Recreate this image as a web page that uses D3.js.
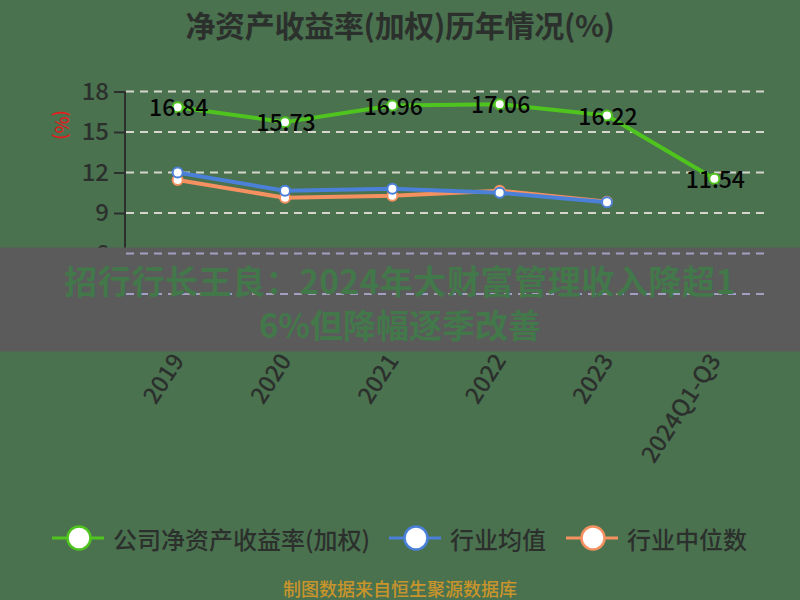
<!DOCTYPE html>
<html><head><meta charset="utf-8">
<script src="https://cdn.jsdelivr.net/npm/d3@7"></script>
<style>
html,body{margin:0;padding:0;background:#4a724f;}
svg{display:block;font-family:"Noto Sans CJK SC","Noto Sans",sans-serif;}
</style></head>
<body>
<svg id="chart" width="800" height="600"></svg>
<script>
const categories = ["2019","2020","2021","2022","2023","2024Q1-Q3"];
const companyROE = [16.84,15.73,16.96,17.06,16.22,11.54];
const industryMean = [12.0,10.65,10.8,10.5,9.8,null];
const industryMedian = [11.44,10.13,10.28,10.65,9.84,null];
const yTicks = [0,3,6,9,12,15,18];
const seriesNames = ["公司净资产收益率(加权)","行业均值","行业中位数"];
const seriesColors = ["#4fc41f","#4a80d8","#f59160"];
const titleText = "净资产收益率(加权)历年情况(%)";
const yAxisLabel = "(%)";
const sourceText = "制图数据来自恒生聚源数据库";
const bannerLines = ["招行行长王良：2024年大财富管理收入降超1","6%但降幅逐季改善"];

(function(){
const svg = d3.select("#chart");
const W = 800, H = 600;
const pLeft = 125, pRight = 768, pTop = 91.5, pBottom = 334.5;
const bTop = 247.5, bBot = 351.5;

svg.append("rect").attr("width",W).attr("height",H).attr("fill","#4a724f");

const x = d3.scaleBand().domain(categories).range([pLeft-1,pRight]);
const y = d3.scaleLinear().domain([0,18]).range([pBottom,pTop]);
const cx = c => x(c) + x.bandwidth()/2;

// title
svg.append("text").attr("x",400).attr("y",24).attr("text-anchor","middle")
  .attr("dominant-baseline","central").attr("font-size",30).attr("font-weight","bold")
  .attr("fill","#2c302d").attr("letter-spacing",-0.3).text(titleText);

// grid
svg.append("g").selectAll("line").data(yTicks.filter(t=>t>0)).join("line")
  .attr("x1",pLeft+1).attr("x2",pRight).attr("y1",d=>y(d)).attr("y2",d=>y(d))
  .attr("stroke","#d6d6cc").attr("stroke-width",2).attr("stroke-dasharray","8,6");

// y axis
const yAxis = d3.axisLeft(y).tickValues(yTicks).tickSize(11).tickPadding(5)
  .tickFormat(d => y(d) - 12 < bTop ? d : "");
const yg = svg.append("g").attr("transform",`translate(${pLeft},0)`).call(yAxis);
yg.select(".domain").attr("stroke","#2c302d").attr("stroke-width",2).attr("d",`M0,${pTop}V${pBottom}`);
yg.selectAll(".tick line").attr("stroke","#2c302d").attr("stroke-width",2);
yg.selectAll(".tick text").attr("fill","#2c302d").attr("font-size",24).attr("font-weight",500)
  .attr("font-family","'Noto Sans CJK SC',sans-serif");

// y label
svg.append("text").attr("transform","translate(63,125) rotate(90)")
  .attr("text-anchor","middle").attr("dominant-baseline","central")
  .attr("font-size",18).attr("font-weight",500).attr("fill","#e01c1c").text(yAxisLabel);

// x labels
svg.append("g").selectAll("text").data(categories).join("text")
  .attr("transform",c=>`translate(${cx(c)-1},355) rotate(-57)`)
  .attr("text-anchor","end").attr("dominant-baseline","central")
  .attr("font-size",23.5).attr("font-weight",500).attr("fill","#2c302d").text(c=>c);

// lines
const allSeries = [companyROE, industryMean, industryMedian];
const lineGen = d3.line().defined(d=>d.v!=null).x(d=>cx(d.c)).y(d=>y(d.v));
[2,1,0].forEach(i=>{
  const pts = categories.map((c,j)=>({c, v: allSeries[i][j]}));
  svg.append("path").datum(pts).attr("d",lineGen).attr("fill","none")
    .attr("stroke",seriesColors[i]).attr("stroke-width",4).attr("stroke-linejoin","round");
  svg.append("g").selectAll("circle").data(pts.filter(d=>d.v!=null)).join("circle")
    .attr("cx",d=>cx(d.c)).attr("cy",d=>y(d.v)).attr("r",5)
    .attr("fill","#fff").attr("stroke",seriesColors[i]).attr("stroke-width",2);
});

// labels for company
svg.append("g").selectAll("text").data(categories.map((c,j)=>({c,v:companyROE[j]}))).join("text")
  .attr("x",d=>cx(d.c)+1).attr("y",d=>y(d.v)-1).attr("text-anchor","middle")
  .attr("dominant-baseline","central").attr("font-size",23).attr("font-weight",500).attr("fill","#050505")
  .text(d=>d.v.toFixed(2));

// banner overlay
svg.append("rect").attr("x",0).attr("y",bTop).attr("width",W).attr("height",bBot-bTop).attr("fill","#5b5b5b");
svg.append("g").selectAll("line").data(yTicks.filter(t=>t>0 && y(t)>bTop && y(t)<bBot)).join("line")
  .attr("x1",pLeft+1).attr("x2",pRight).attr("y1",d=>y(d)).attr("y2",d=>y(d))
  .attr("stroke","#a39fc2").attr("stroke-width",2).attr("stroke-dasharray","8,6");
svg.append("g").selectAll("text").data(bannerLines).join("text")
  .attr("x",400).attr("y",(d,i)=>280+i*44).attr("text-anchor","middle")
  .attr("dominant-baseline","central").attr("font-size",33).attr("font-weight","bold")
  .attr("letter-spacing",(d,i)=> i===0 ? 0.6 : 0)
  .attr("fill","#42784a").text(d=>d);

// legend
const legX = [79,416,593];
const lg = svg.append("g");
seriesNames.forEach((n,i)=>{
  const g = lg.append("g");
  g.append("line").attr("x1",legX[i]-27).attr("x2",legX[i]+25).attr("y1",538).attr("y2",538)
    .attr("stroke",seriesColors[i]).attr("stroke-width",3);
  g.append("circle").attr("cx",legX[i]).attr("cy",538).attr("r",11.5)
    .attr("fill","#fff").attr("stroke",seriesColors[i]).attr("stroke-width",2.5);
  g.append("text").attr("x",legX[i]+34).attr("y",538).attr("dominant-baseline","central")
    .attr("font-size",24).attr("font-weight",500).attr("fill","#2c302d").text(n);
});

// source
svg.append("text").attr("x",400).attr("y",588).attr("text-anchor","middle")
  .attr("dominant-baseline","central").attr("font-size",18).attr("font-weight",500)
  .attr("fill","#c9952b").text(sourceText);
})();
</script>
</body></html>
